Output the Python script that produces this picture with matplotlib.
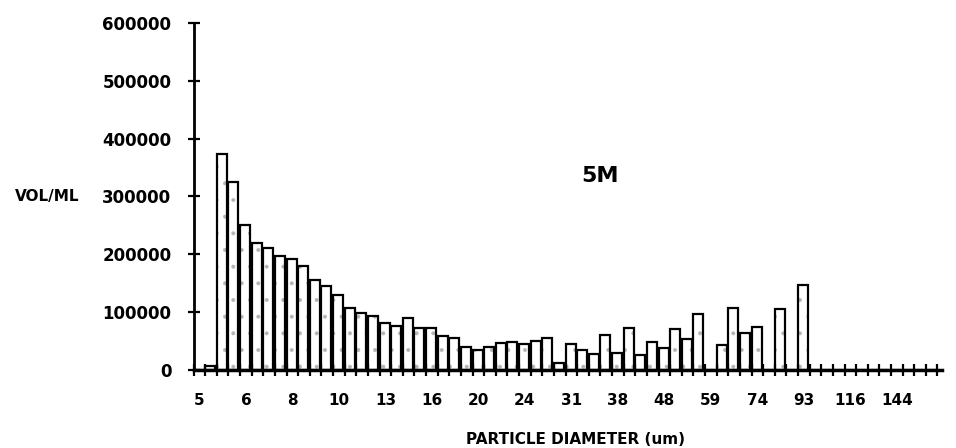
import matplotlib

matplotlib.use("Agg")
import matplotlib.pyplot as plt
import numpy as np

# Volume per ml for each size channel (64 channels, log spaced)
volume = [
    0, 6000, 373000, 325000, 251000, 220000, 211000, 197500,
    192000, 180000, 155000, 145000, 129000, 107000, 98500, 92500,
    81000, 75000, 89500, 71500, 71500, 58000, 55000, 39600,
    34500, 38500, 46500, 47500, 44200, 49800, 55500, 11000,
    44800, 33900, 26600, 60500, 28100, 71500, 25200, 48300,
    38200, 70000, 52600, 96400, 0, 43000, 106000, 63300,
    72900, 0, 105000, 0, 146700, 0, 0, 0,
    0, 0, 0, 0, 0, 0, 0, 0,
]
# labels shown under every 4th channel
diameter_labels = ["5", "6", "8", "10", "13", "16", "20", "24",
                   "31", "38", "48", "59", "74", "93", "116", "144"]
y_ticks = [0, 100000, 200000, 300000, 400000, 500000, 600000]

plt.rcParams["font.family"] = ["DejaVu Sans"]
plt.rcParams["font.weight"] = "bold"
plt.rcParams["hatch.linewidth"] = 0.4

fig = plt.figure(figsize=(9.56, 4.48), dpi=100)
ax = fig.add_axes([0.2025, 0.175, 0.783, 0.7737])

n = len(volume)
pos = np.arange(n)
# faint speckle fill, then the black outlines on top
ax.bar(pos, volume, width=0.86, align="edge", color="white",
       edgecolor="#b5b5b5", linewidth=0, hatch=".")
ax.bar(pos, volume, width=0.86, align="edge", fill=False,
       edgecolor="black", linewidth=1.6)

ax.set_xlim(0, n + 0.4)
ax.set_ylim(0, 600000)

ax.set_xticks(np.arange(n + 1), minor=True)
ax.set_xticks(np.arange(0, n, 4) + 0.5)
ax.set_xticklabels(diameter_labels)
ax.tick_params(axis="x", which="major", length=0, pad=17, labelsize=11)
ax.tick_params(axis="x", which="minor", length=8, width=1.6, direction="inout")

ax.set_yticks(y_ticks)
ax.set_yticklabels([str(v) for v in y_ticks])
ax.tick_params(axis="y", length=8, width=1.6, direction="inout", pad=12, labelsize=12)

for s in ["top", "right"]:
    ax.spines[s].set_visible(False)
ax.spines["left"].set_linewidth(2)
ax.spines["bottom"].set_linewidth(2.5)

fig.text(15 / 956, 1 - 197 / 448, "VOL/ML", fontsize=11, fontweight="bold",
         ha="left", va="center")
ax.text(581 / 956, 1 - 176 / 448, "5M", transform=fig.transFigure,
        fontsize=16, fontweight="bold", ha="left", va="center")
fig.text(575 / 956, 1 - 439 / 448, "PARTICLE DIAMETER (um)", fontsize=11,
         fontweight="bold", ha="center", va="center")

fig.savefig("out.png", dpi=100)
